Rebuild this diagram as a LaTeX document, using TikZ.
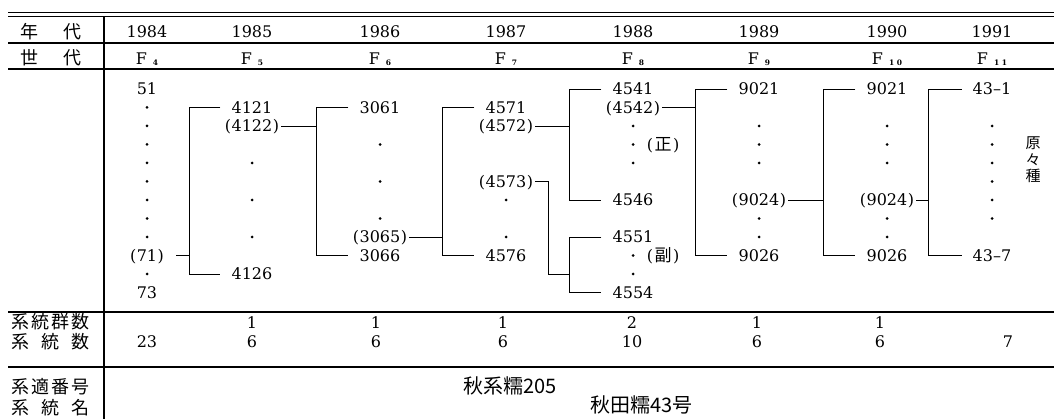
\documentclass[tikz,border=0pt]{standalone}
\usepackage{fontspec}
\newfontfamily\jfont{Noto Sans CJK JP}
\newfontfamily\numfont{DejaVu Serif}
\tikzset{
  num/.style={inner xsep=2pt, inner ysep=0pt, text height=12pt, text depth=0pt,
    font=\numfont\fontsize{16}{18}\selectfont},
  jlab/.style={inner sep=0pt, font=\jfont\fontsize{18}{20}\selectfont},
  jname/.style={inner sep=0pt, font=\jfont\fontsize{20}{22}\selectfont},
  rule/.style={line width=1.1pt},
  link/.style={line width=0.9pt},
  arm/.style={link, shorten <=9pt, shorten >=9pt},
}
\newcommand{\gen}[1]{F\kern6pt\raisebox{-1pt}{\fontsize{7.5}{9}\selectfont\bfseries #1}}
\newcommand{\pn}[1]{(\kern0.5pt#1\kern0.5pt)}
\newcommand{\mk}[1]{(\kern1.5pt{\jfont\fontsize{17}{17}\selectfont #1}\kern1.5pt)}
\begin{document}
\begin{tikzpicture}[x=1pt,y=-1pt]
        \useasboundingbox (0,0) rectangle (1054,419);
        % table rules
        \draw[rule] (8,12.5) -- (1054,12.5);
        \draw[rule] (8,16.7) -- (1054,16.7);
        \foreach \y in {43,69,312,367}
            \draw[rule] (8,\y) -- (1054,\y);
        \draw[rule] (104,16.7) -- (104,419);
        % left column labels
        \node[jlab] at (51,32) (lyear) {\makebox[62pt][s]{年\hfill 代}};
        \node[jlab] at (51,58) (lgen) {\makebox[62pt][s]{世\hfill 代}};
        \node[jlab] at (51,322) (lgroups) {\makebox[78pt][s]{系\hfill 統\hfill 群\hfill 数}};
        \node[jlab] at (51,342) (llines) {\makebox[78pt][s]{系\hfill 統\hfill 数}};
        \node[jlab] at (51,387) (lnumber) {\makebox[78pt][s]{系\hfill 適\hfill 番\hfill 号}};
        \node[jlab] at (51,408) (lname) {\makebox[78pt][s]{系\hfill 統\hfill 名}};
        % years and generations
        \foreach \yr/\cx/\g in {1984/147/4,1985/252/5,1986/380/6,1987/506/7,
                1988/633/8,1989/759/9,1990/887/{1\kern2.5pt 0},1991/992/{1\kern2.5pt 1}} {
            \node[num] at (\cx,32) (y\yr) {\yr};
            \node[num] at (\cx,59) (g\yr) {\gen{\g}};
        }
        % lines per year
        \node[num] at (147,89) (n51) {51};
        \node[num] at (147,255.5) (n71) {\pn{71}};
        \node[num] at (147,292.5) (n73) {73};
        \node[num] at (252,107.5) (n4121) {4121};
        \node[num] at (252,126) (n4122) {\pn{4122}};
        \node[num] at (252,274) (n4126) {4126};
        \node[num] at (380,107.5) (n3061) {3061};
        \node[num] at (380,237) (n3065) {\pn{3065}};
        \node[num] at (380,255.5) (n3066) {3066};
        \node[num] at (506,107.5) (n4571) {4571};
        \node[num] at (506,126) (n4572) {\pn{4572}};
        \node[num] at (506,181.5) (n4573) {\pn{4573}};
        \node[num] at (506,255.5) (n4576) {4576};
        \node[num] at (633,89) (n4541) {4541};
        \node[num] at (633,107.5) (n4542) {\pn{4542}};
        \node[num] at (633,200) (n4546) {4546};
        \node[num] at (663,144.5) (nsei) {\mk{正}};
        \node[num] at (633,237) (n4551) {4551};
        \node[num] at (663,255.5) (nfuku) {\mk{副}};
        \node[num] at (633,292.5) (n4554) {4554};
        \node[num] at (759,89) (n9021a) {9021};
        \node[num] at (759,200) (n9024a) {\pn{9024}};
        \node[num] at (759,255.5) (n9026a) {9026};
        \node[num] at (887,89) (n9021b) {9021};
        \node[num] at (887,200) (n9024b) {\pn{9024}};
        \node[num] at (887,255.5) (n9026b) {9026};
        \node[num] at (992,89) (n431) {43\textendash 1};
        \node[num] at (992,255.5) (n437) {43\textendash 7};
        \node[inner sep=0pt, align=center, font=\jfont\fontsize{15}{16.5}\selectfont]
            at (1033,160) (nfound) {原\\々\\種};
        % omitted lines
        \foreach \cx/\rows in {147/{1,2,3,4,5,6,7,8,10},252/{4,6,8},380/{3,5,7},
                506/{6,8},633/{2,3,4,9,10},759/{2,3,4,7,8},887/{2,3,4,7,8},992/{2,3,4,5,6,7}}
            \foreach \r in \rows
                \fill (\cx,{89+18.5*\r}) circle (1.5pt);
        % bracket spines
        \coordinate (s5) at (189,0);
        \coordinate (s6) at (316,0);
        \coordinate (s7) at (442,0);
        \coordinate (s8) at (569,0);
        \coordinate (s9) at (695,0);
        \coordinate (s10) at (823,0);
        \coordinate (s11) at (928,0);
        \coordinate (j8) at (548,274);
        % brackets
        \draw[arm] (n4121.west) -- (n4121.west -| s5) -- (n4126.west -| s5) -- (n4126.west);
        \draw[arm] (n3061.west) -- (n3061.west -| s6) -- (n3066.west -| s6) -- (n3066.west);
        \draw[arm] (n4571.west) -- (n4571.west -| s7) -- (n4576.west -| s7) -- (n4576.west);
        \draw[arm] (n4541.west) -- (n4541.west -| s8) -- (n4546.west -| s8) -- (n4546.west);
        \draw[arm] (n4551.west) -- (n4551.west -| s8) -- (n4554.west -| s8) -- (n4554.west);
        \draw[arm] (n9021a.west) -- (n9021a.west -| s9) -- (n9026a.west -| s9) -- (n9026a.west);
        \draw[arm] (n9021b.west) -- (n9021b.west -| s10) -- (n9026b.west -| s10) -- (n9026b.west);
        \draw[arm] (n431.west) -- (n431.west -| s11) -- (n437.west -| s11) -- (n437.west);
        % parent lines
        \draw[link, shorten <=10pt] (n71.east) -- (n71.east -| s5);
        \draw[link] (n4122.east) -- (n4122.east -| s6);
        \draw[link] (n3065.east) -- (n3065.east -| s7);
        \draw[link] (n4572.east) -- (n4572.east -| s8);
        \draw[link] (n4573.east) -- (n4573.east -| j8) -- (j8) -- (j8 -| s8);
        \draw[link] (n4542.east) -- (n4542.east -| s9);
        \draw[link] (n9024a.east) -- (n9024a.east -| s10);
        \draw[link] (n9024b.east) -- (n9024b.east -| s11);
        % counts
        \node[num] at (147,342) (c1984) {23};
        \foreach \yr/\cx/\a/\b in {1985/252/1/6,1986/376/1/6,1987/503/1/6,
                1988/632/2/10,1989/757/1/6,1990/880/1/6} {
            \node[num] at (\cx,322) (k\yr) {\a};
            \node[num] at (\cx,342) (c\yr) {\b};
        }
        \node[num] at (1008,342) (c1991) {7};
        % names
        \node[jname] at (510,386) (nparent) {秋系糯205};
        \node[jname] at (641.5,405) (nvariety) {秋田糯43号};
\end{tikzpicture}
\end{document}
